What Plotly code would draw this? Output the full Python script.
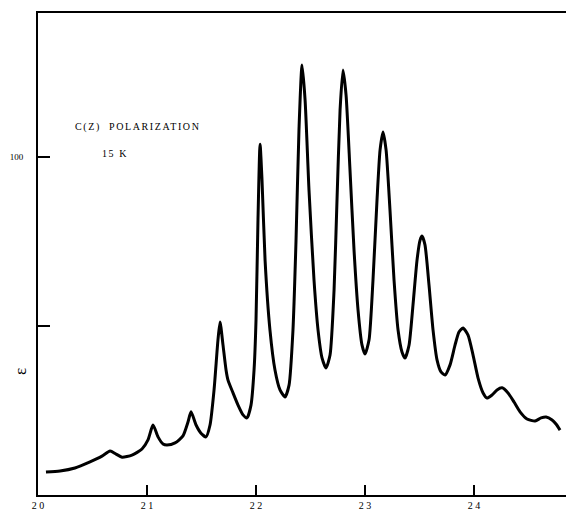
import plotly.graph_objects as go

# wavenumber (10^3 cm^-1) and extinction coefficient epsilon
wavenumber = [
    20.073, 20.202, 20.339, 20.477, 20.587, 20.661, 20.716, 20.771, 20.862, 20.954,
    21.009, 21.055, 21.101, 21.147, 21.183, 21.257, 21.330, 21.376, 21.404, 21.450,
    21.495, 21.541, 21.578, 21.615, 21.651, 21.670, 21.697, 21.725, 21.743, 21.789,
    21.835, 21.881, 21.917, 21.954, 21.982, 22.000, 22.018, 22.037, 22.055, 22.083,
    22.128, 22.174, 22.220, 22.266, 22.303, 22.339, 22.367, 22.394, 22.422, 22.450,
    22.486, 22.532, 22.569, 22.606, 22.642, 22.679, 22.716, 22.743, 22.771, 22.798,
    22.826, 22.862, 22.899, 22.936, 22.972, 23.000, 23.037, 23.073, 23.110, 23.138,
    23.165, 23.193, 23.229, 23.266, 23.303, 23.339, 23.367, 23.404, 23.440, 23.477,
    23.505, 23.523, 23.550, 23.587, 23.624, 23.661, 23.697, 23.734, 23.780, 23.826,
    23.862, 23.899, 23.945, 23.991, 24.037, 24.083, 24.119, 24.165, 24.211, 24.257,
    24.312, 24.367, 24.422, 24.486, 24.560, 24.615, 24.661, 24.716, 24.752, 24.789,
]
epsilon = [
    6.8, 7.1, 8.0, 9.8, 11.5, 13.0, 12.1, 11.2, 11.8, 13.6,
    16.3, 20.7, 17.2, 15.1, 14.8, 15.4, 17.5, 21.6, 24.6, 20.7,
    18.3, 17.2, 20.7, 31.1, 45.9, 51.2, 44.4, 37.0, 34.0, 30.2,
    26.6, 23.7, 22.8, 26.6, 37.0, 51.8, 81.4, 103.8, 93.2, 69.5,
    48.8, 37.0, 31.1, 29.0, 32.5, 48.8, 75.4, 108.0, 127.2, 116.9,
    90.2, 63.6, 48.8, 40.5, 37.6, 41.4, 60.7, 87.3, 113.9, 125.7,
    118.3, 96.2, 72.5, 54.7, 44.4, 41.7, 45.9, 63.6, 87.3, 102.1,
    107.4, 102.1, 84.3, 63.6, 48.8, 42.3, 40.5, 44.4, 56.2, 69.5,
    75.4, 76.6, 74.0, 62.1, 48.8, 39.9, 36.4, 35.5, 38.5, 44.4,
    48.2, 49.4, 47.3, 41.4, 34.6, 30.2, 28.7, 29.6, 31.1, 31.7,
    30.2, 27.5, 24.6, 22.5, 21.9, 22.8, 23.1, 22.2, 21.0, 19.2,
]

x_tick_vals = [20, 21, 22, 23, 24]
x_tick_text = ["2 0", "2 1", "2 2", "2 3", "2 4"]
y_tick_vals = [50, 100]
y_tick_text = ["", "100"]

serif = "Liberation Serif, DejaVu Serif, serif"

fig = go.Figure()
fig.add_trace(go.Scatter(
    x=wavenumber, y=epsilon, mode="lines",
    line=dict(color="black", width=3, shape="spline", smoothing=0.6),
    showlegend=False, hoverinfo="skip",
))

# the page body adds an 8px offset, so the figure is 8px smaller than the window
OFF = 8
L, R, T, B = 30, 0, 5, 15
W, H = 574 - OFF, 510 - OFF

fig.update_layout(
    width=W, height=H,
    margin=dict(l=L, r=R, t=T, b=B, autoexpand=False),
    paper_bgcolor="white", plot_bgcolor="white",
    font=dict(family=serif, color="black"),
    xaxis=dict(
        range=[20, 24.917], showgrid=False, zeroline=False, automargin=False,
        showline=True, linecolor="black", linewidth=2, mirror=True,
        tickmode="array", tickvals=x_tick_vals, ticktext=x_tick_text,
        ticks="inside", ticklen=10, tickwidth=2, tickcolor="black",
        ticklabelstandoff=0,
        tickfont=dict(family=serif, size=10, color="black"),
    ),
    yaxis=dict(
        range=[0, 142.6], showgrid=False, zeroline=False, automargin=False,
        showline=True, linecolor="black", linewidth=2,
        tickmode="array", tickvals=y_tick_vals, ticktext=y_tick_text,
        ticks="inside", ticklen=12, tickwidth=2, tickcolor="black",
        ticklabelstandoff=11,
        tickfont=dict(family=serif, size=9, color="black"),
    ),
)

# annotation positions given in pixels of the 574x510 picture
pw, ph = W - L - R, H - T - B
labels = [
    ('<span style="letter-spacing:1.6px">C(Z)  POLARIZATION</span>', 73, 127, 10, 0, "left"),
    ('<span style="letter-spacing:1.6px">15 K</span>', 100, 154, 10, 0, "left"),
    ("ε", 20, 372, 17, -90, "center"),
]
for text, px, py, size, angle, anchor in labels:
    fig.add_annotation(
        text=text, xref="paper", yref="paper",
        x=(px - OFF - L) / pw, y=(H - B - (py - OFF)) / ph,
        showarrow=False, textangle=angle,
        font=dict(family=serif, size=size, color="black"),
        xanchor=anchor, yanchor="middle",
    )

fig.write_html("out.html")
